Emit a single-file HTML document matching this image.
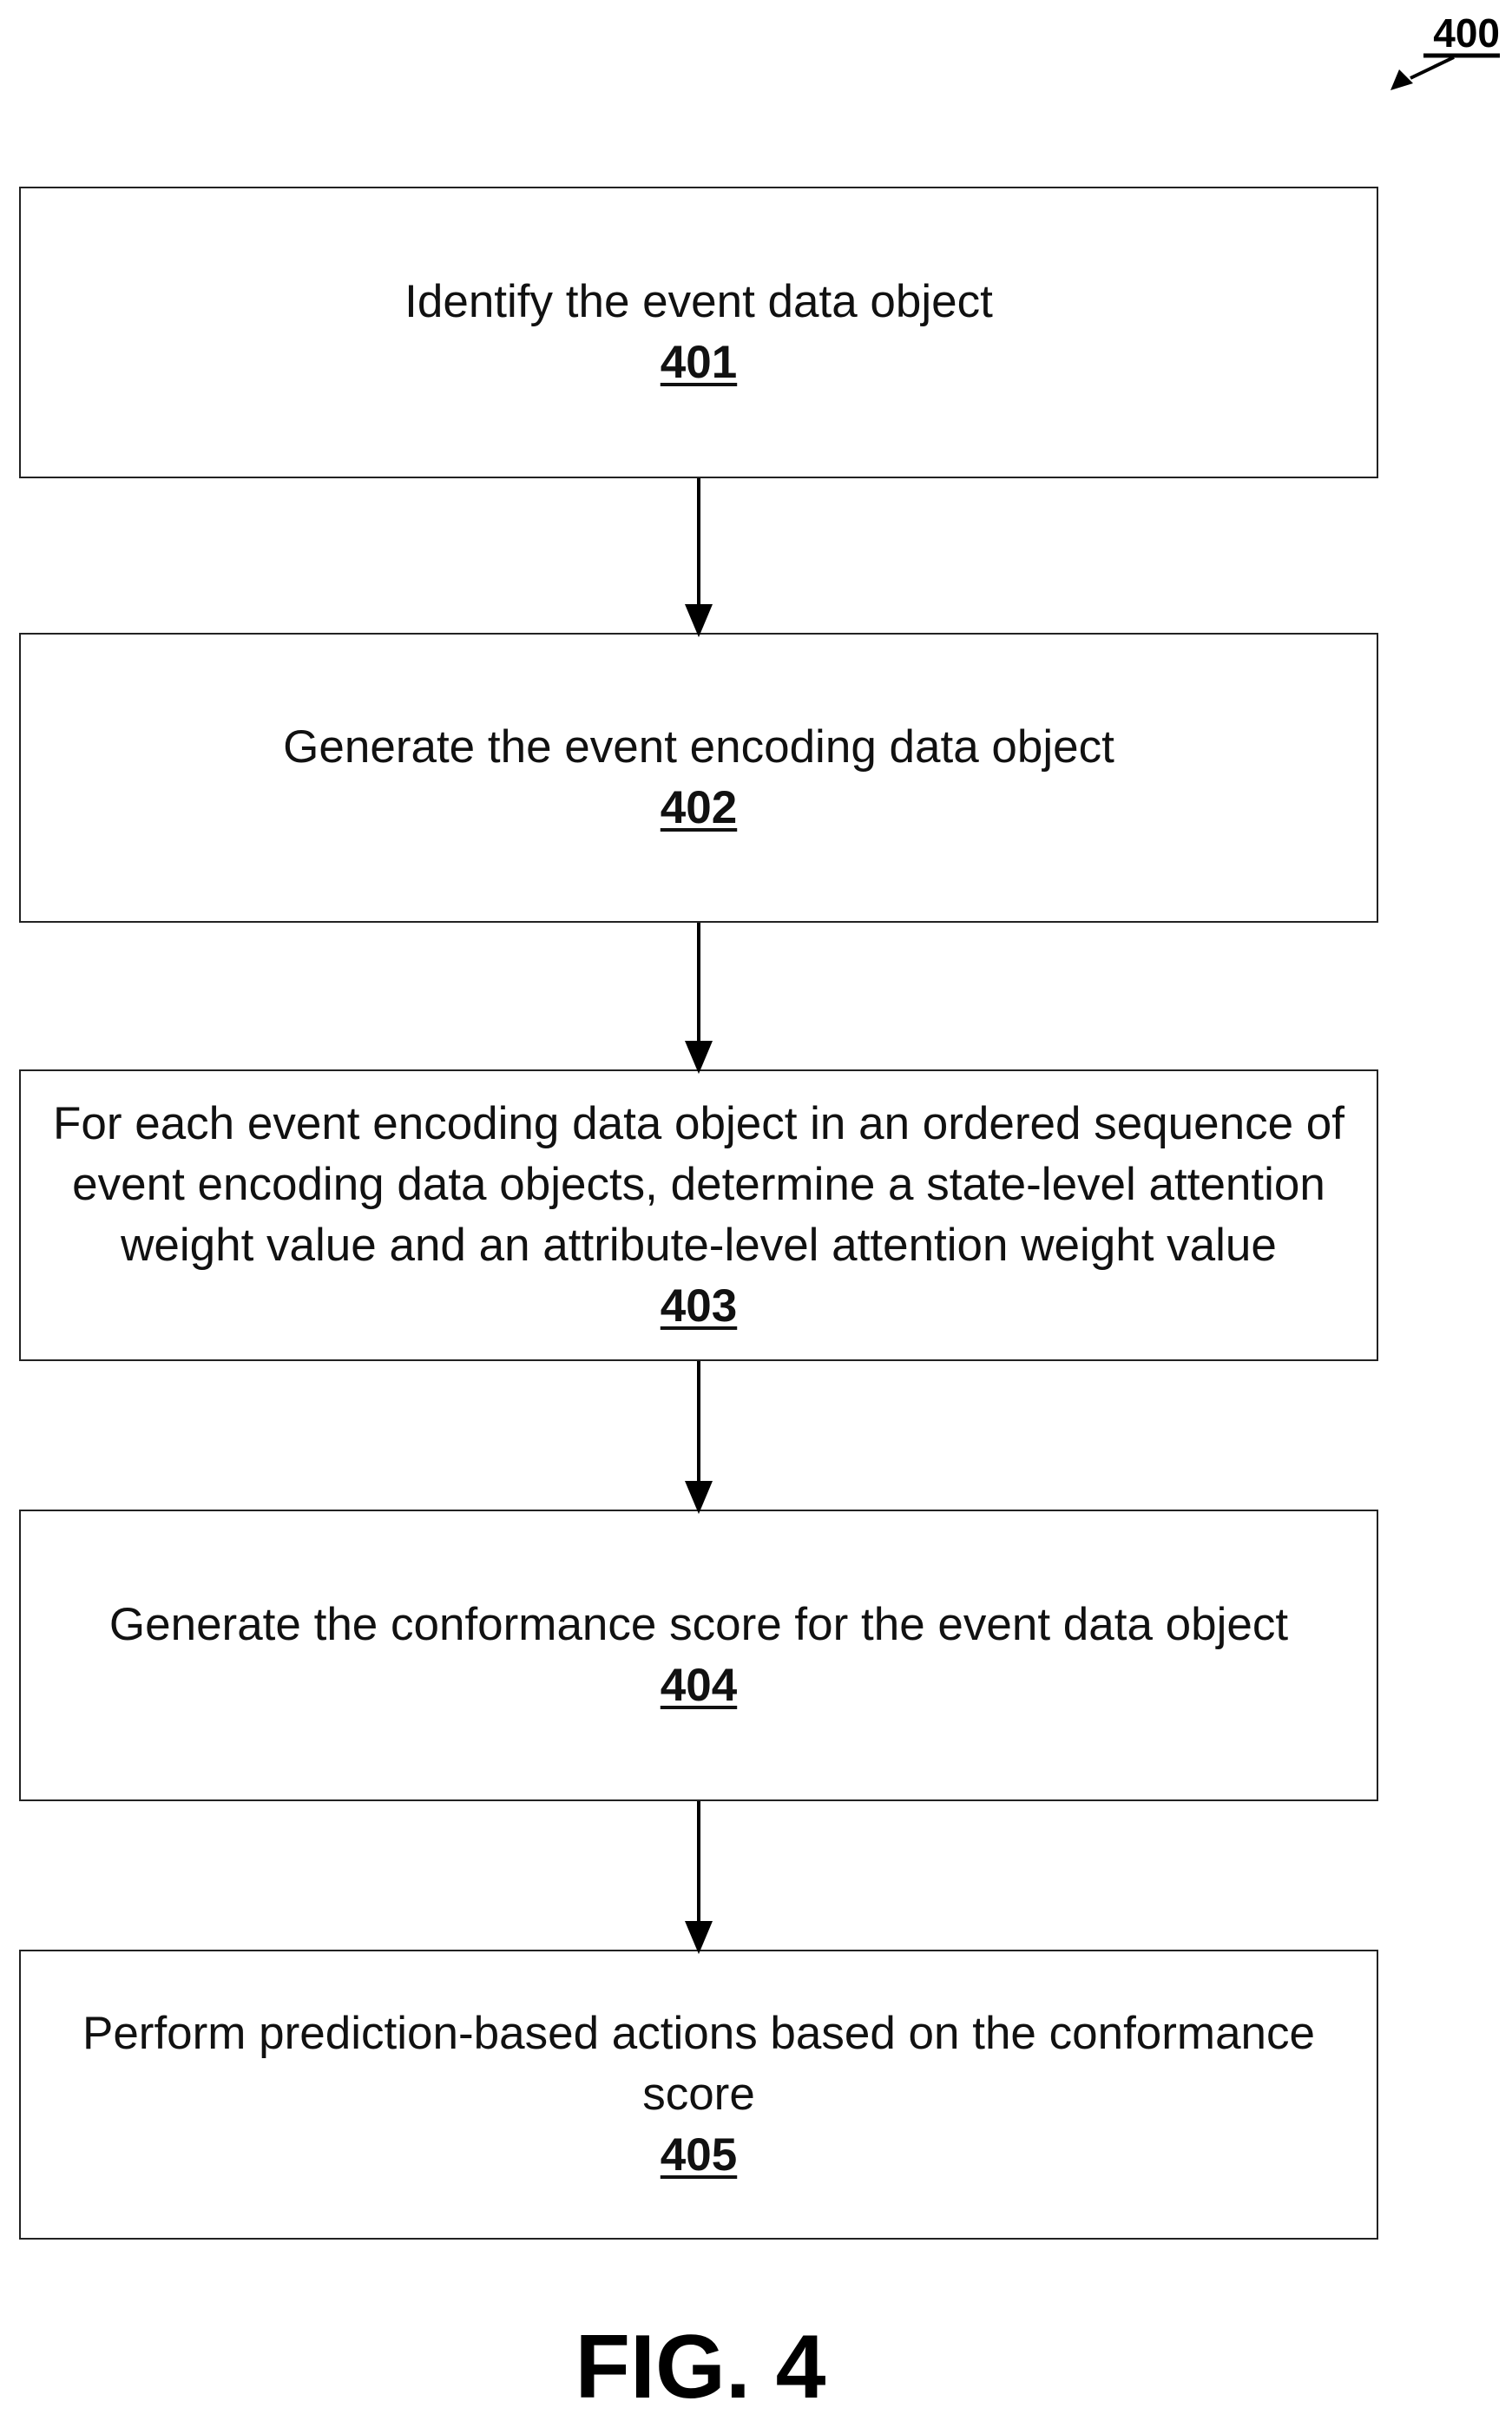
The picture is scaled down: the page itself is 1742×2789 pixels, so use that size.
<!DOCTYPE html>
<html><head><meta charset="utf-8"><style>
html,body{margin:0;padding:0;background:#fff;}
body{width:1742px;height:2789px;position:relative;overflow:hidden;font-family:"Liberation Sans",sans-serif;}
.box{position:absolute;left:22px;width:1566px;border:2px solid #222;display:flex;align-items:center;justify-content:center;text-align:center;line-height:70px;color:#111;box-sizing:border-box;}
.box div{font-size:53px;}
.box b{text-decoration:underline;text-decoration-thickness:4px;text-underline-offset:6px;}
.fig{position:absolute;left:0;width:1614px;text-align:center;top:2668px;font-weight:bold;font-size:104px;}
</style></head><body>
<div class="box" style="top:215px;height:336px;"><div>Identify the event data object<br><b>401</b></div></div>
<div class="box" style="top:729px;height:334px;"><div>Generate the event encoding data object<br><b>402</b></div></div>
<div class="box" style="top:1232px;height:336px;"><div>For each event encoding data object in an ordered sequence of<br>event encoding data objects, determine a state-level attention<br>weight value and an attribute-level attention weight value<br><b>403</b></div></div>
<div class="box" style="top:1739px;height:336px;"><div>Generate the conformance score for the event data object<br><b>404</b></div></div>
<div class="box" style="top:2246px;height:334px;"><div>Perform prediction-based actions based on the conformance<br>score<br><b>405</b></div></div>
<svg width="1742" height="2789" style="position:absolute;left:0;top:0" xmlns="http://www.w3.org/2000/svg">
<g stroke="#000" stroke-width="4">
<line x1="805" y1="551" x2="805" y2="700"/><path d="M792,698 L805,729 L818,698 z" fill="#000"/>
<line x1="805" y1="1063" x2="805" y2="1203"/><path d="M792,1201 L805,1232 L818,1201 z" fill="#000"/>
<line x1="805" y1="1568" x2="805" y2="1710"/><path d="M792,1708 L805,1739 L818,1708 z" fill="#000"/>
<line x1="805" y1="2075" x2="805" y2="2217"/><path d="M792,2215 L805,2246 L818,2215 z" fill="#000"/>
<line x1="1675" y1="66" x2="1625" y2="90"/>
</g>
<path d="M1602,104 L1612,80 L1628,96 z" fill="#000"/>
<text x="1728" y="54" text-anchor="end" font-family="Liberation Sans, sans-serif" font-weight="bold" font-size="46" fill="#000">400</text>
<line x1="1640" y1="64" x2="1728" y2="64" stroke="#000" stroke-width="5"/>
</svg>
<div class="fig">FIG. 4</div>
</body></html>
